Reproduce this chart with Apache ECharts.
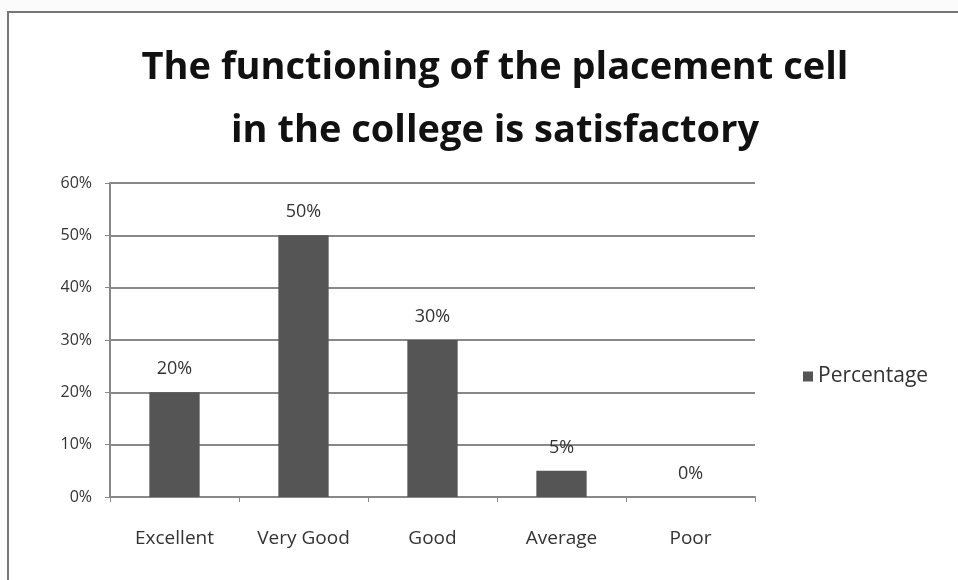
<!DOCTYPE html>
<html><head><meta charset="utf-8">
<script src="https://cdn.jsdelivr.net/npm/echarts@6/dist/echarts.min.js"></script>
<style>html,body{margin:0;padding:0;background:#fff}#c{width:958px;height:580px}</style>
</head><body><div id="c"></div>
<script>
const categories = ["Excellent","Very Good","Good","Average","Poor"];
const percentage = [20,50,30,5,0];
const yTicks = [0,10,20,30,40,50,60];
const seriesName = "Percentage";
const titleText = "The functioning of the placement cell\nin the college is satisfactory";

const chart = echarts.init(document.getElementById('c'));
chart.setOption({
  backgroundColor:'#fbfbfb',
  animation:false,
  graphic:[{type:'rect',shape:{x:8,y:12,width:960,height:580},style:{fill:'#fff',stroke:'#777',lineWidth:2},z:-10}],
  title:{text:titleText,left:490,textAlign:'center',top:32,
    textStyle:{fontFamily:'Open Sans',fontWeight:'bold',fontSize:38,color:'#111',lineHeight:63}},
  legend:{data:[seriesName],left:798,top:361,icon:'rect',itemWidth:10,itemHeight:10,itemGap:8,
    textStyle:{fontFamily:'Open Sans',fontSize:21,color:'#333'}},
  grid:{left:110,right:203,top:183,bottom:83},
  xAxis:{type:'category',data:categories,
    axisLine:{lineStyle:{color:'#888',width:2}},
    axisTick:{show:true,lineStyle:{color:'#888'},length:5},
    axisLabel:{fontFamily:'Open Sans',fontSize:19,color:'#333',margin:32}},
  yAxis:{type:'value',min:yTicks[0],max:yTicks[yTicks.length-1],interval:10,
    axisLine:{show:true,lineStyle:{color:'#888',width:2}},
    axisTick:{show:true,lineStyle:{color:'#888'},length:5,inside:false},
    splitLine:{lineStyle:{color:'#888',width:2}},
    axisLabel:{fontFamily:'Open Sans',fontSize:16,color:'#333',margin:18,formatter:v=>v+'%'}},
  series:[{name:seriesName,type:'bar',data:percentage,barWidth:'39%',
    itemStyle:{color:'#555'},
    label:{show:true,position:'top',distance:14,formatter:p=>p.value+'%',
      fontFamily:'Open Sans',fontSize:18,color:'#333'}}]
});
</script></body></html>
